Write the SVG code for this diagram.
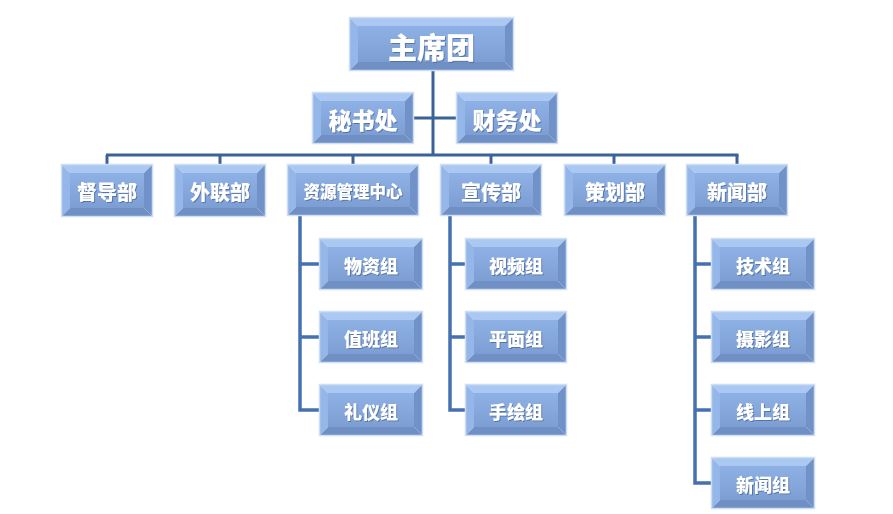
<svg xmlns="http://www.w3.org/2000/svg" xmlns:xlink="http://www.w3.org/1999/xlink" width="893" height="514" viewBox="0 0 893 514">
<defs>
<linearGradient id="fg" x1="0" y1="0" x2="0" y2="1">
<stop offset="0" stop-color="#8eb1e5"/>
<stop offset="1" stop-color="#7d9ed3"/>
</linearGradient>
<filter id="ts" x="-20%" y="-30%" width="140%" height="160%">
<feDropShadow dx="1" dy="1" stdDeviation="0.7" flood-color="#2f4f80" flood-opacity="0.55"/>
</filter>
<style>
.t{fill:#aac8f1}
.l{fill:#94b6e8}
.r{fill:#7192c8}
.b{fill:#6f8fc5}
.f{fill:url(#fg)}
.o{fill:none;stroke:#cddff4;stroke-width:1.5}
.tx{fill:#ffffff;font-family:"Noto Sans CJK SC","Noto Sans",sans-serif;font-weight:900;text-anchor:middle;dominant-baseline:central;filter:url(#ts)}
.cn{fill:none;stroke:#3b6398;stroke-width:3}
.cs{fill:none;stroke:#4671b0;stroke-width:3.5}
</style>
<g id="s102">
<polygon class="t" points="0,0 102,0 94,8 8,8"/>
<polygon class="l" points="0,0 8,8 8,42 0,50"/>
<polygon class="r" points="102,0 102,50 94,42 94,8"/>
<polygon class="b" points="0,50 102,50 94,42 8,42"/>
<rect class="f" x="8" y="8" width="86" height="34"/>
<rect class="o" x="-0.5" y="-0.5" width="103" height="51"/>
</g>
<g id="s100">
<polygon class="t" points="0,0 100,0 92,8 8,8"/>
<polygon class="l" points="0,0 8,8 8,42 0,50"/>
<polygon class="r" points="100,0 100,50 92,42 92,8"/>
<polygon class="b" points="0,50 100,50 92,42 8,42"/>
<rect class="f" x="8" y="8" width="84" height="34"/>
<rect class="o" x="-0.5" y="-0.5" width="101" height="51"/>
</g>
<g id="s90">
<polygon class="t" points="0,0 90,0 82,8 8,8"/>
<polygon class="l" points="0,0 8,8 8,43 0,51"/>
<polygon class="r" points="90,0 90,51 82,43 82,8"/>
<polygon class="b" points="0,51 90,51 82,43 8,43"/>
<rect class="f" x="8" y="8" width="74" height="35"/>
<rect class="o" x="-0.5" y="-0.5" width="91" height="52"/>
</g>
</defs>
<rect width="893" height="514" fill="#ffffff"/>

<g id="connectors">
<line class="cn" x1="433" y1="70" x2="433" y2="155"/>
<line class="cn" x1="413" y1="118" x2="457" y2="118"/>
<line class="cn" x1="106" y1="155" x2="738.5" y2="155"/>
<line class="cn" x1="107" y1="155" x2="107" y2="165"/>
<line class="cn" x1="220" y1="155" x2="220" y2="165"/>
<line class="cn" x1="353" y1="155" x2="353" y2="165"/>
<line class="cn" x1="491" y1="155" x2="491" y2="165"/>
<line class="cn" x1="614" y1="155" x2="614" y2="165"/>
<line class="cn" x1="737" y1="155" x2="737" y2="165"/>
<polyline class="cs" points="300,215 300,410 320,410"/>
<line class="cs" x1="300" y1="264" x2="320" y2="264"/>
<line class="cs" x1="300" y1="337" x2="320" y2="337"/>
<polyline class="cs" points="450,215 450,410 466,410"/>
<line class="cs" x1="450" y1="264" x2="466" y2="264"/>
<line class="cs" x1="450" y1="337" x2="466" y2="337"/>
<polyline class="cs" points="695,216 695,483 712,483"/>
<line class="cs" x1="695" y1="264" x2="712" y2="264"/>
<line class="cs" x1="695" y1="337" x2="712" y2="337"/>
<line class="cs" x1="695" y1="410" x2="712" y2="410"/>
</g>

<g id="n-zhuxituan" transform="translate(350,18)">
<polygon class="t" points="0,0 163,0 155,8 8,8"/>
<polygon class="l" points="0,0 8,8 8,44 0,52"/>
<polygon class="r" points="163,0 163,52 155,44 155,8"/>
<polygon class="b" points="0,52 163,52 155,44 8,44"/>
<rect class="f" x="8" y="8" width="147" height="36"/>
<rect class="o" x="-0.5" y="-0.5" width="164" height="53"/>
<text class="tx" x="81.5" y="28" font-size="29">主席团</text>
</g>
<g id="n-mishuchu" transform="translate(313,93)">
<use href="#s100"/>
<text class="tx" x="50" y="26" font-size="23">秘书处</text>
</g>
<g id="n-caiwuchu" transform="translate(457,93)">
<use href="#s100"/>
<text class="tx" x="50" y="26" font-size="23">财务处</text>
</g>
<g id="n-dudaobu" transform="translate(62,165)">
<use href="#s90"/>
<text class="tx" x="45" y="26" font-size="20">督导部</text>
</g>
<g id="n-wailianbu" transform="translate(175,165)">
<use href="#s90"/>
<text class="tx" x="45" y="26" font-size="20">外联部</text>
</g>
<g id="n-ziyuan" transform="translate(288,165)">
<polygon class="t" points="0,0 130,0 122,8 8,8"/>
<polygon class="l" points="0,0 8,8 8,42 0,50"/>
<polygon class="r" points="130,0 130,50 122,42 122,8"/>
<polygon class="b" points="0,50 130,50 122,42 8,42"/>
<rect class="f" x="8" y="8" width="114" height="34"/>
<rect class="o" x="-0.5" y="-0.5" width="131" height="51"/>
<text class="tx" x="65" y="26" font-size="16.5">资源管理中心</text>
</g>
<g id="n-xuanchuanbu" transform="translate(441,165)">
<use href="#s100"/>
<text class="tx" x="50" y="26" font-size="20">宣传部</text>
</g>
<g id="n-cehuabu" transform="translate(565,165)">
<use href="#s100"/>
<text class="tx" x="50" y="26" font-size="20">策划部</text>
</g>
<g id="n-xinwenbu" transform="translate(687,165)">
<use href="#s100"/>
<text class="tx" x="50" y="26" font-size="20">新闻部</text>
</g>

<g id="n-wuzizu" transform="translate(320,239)">
<use href="#s102"/>
<text class="tx" x="51" y="26" font-size="18">物资组</text>
</g>
<g id="n-zhibanzu" transform="translate(320,312)">
<use href="#s102"/>
<text class="tx" x="51" y="26" font-size="18">值班组</text>
</g>
<g id="n-liyizu" transform="translate(320,385)">
<use href="#s102"/>
<text class="tx" x="51" y="26" font-size="18">礼仪组</text>
</g>
<g id="n-shipinzu" transform="translate(466,239)">
<use href="#s100"/>
<text class="tx" x="50" y="26" font-size="18">视频组</text>
</g>
<g id="n-pingmianzu" transform="translate(466,312)">
<use href="#s100"/>
<text class="tx" x="50" y="26" font-size="18">平面组</text>
</g>
<g id="n-shouhuizu" transform="translate(466,385)">
<use href="#s100"/>
<text class="tx" x="50" y="26" font-size="18">手绘组</text>
</g>
<g id="n-jishuzu" transform="translate(712,239)">
<use href="#s102"/>
<text class="tx" x="51" y="26" font-size="18">技术组</text>
</g>
<g id="n-sheyingzu" transform="translate(712,312)">
<use href="#s102"/>
<text class="tx" x="51" y="26" font-size="18">摄影组</text>
</g>
<g id="n-xianshangzu" transform="translate(712,385)">
<use href="#s102"/>
<text class="tx" x="51" y="26" font-size="18">线上组</text>
</g>
<g id="n-xinwenzu" transform="translate(712,458)">
<use href="#s102"/>
<text class="tx" x="51" y="26" font-size="18">新闻组</text>
</g>
</svg>
